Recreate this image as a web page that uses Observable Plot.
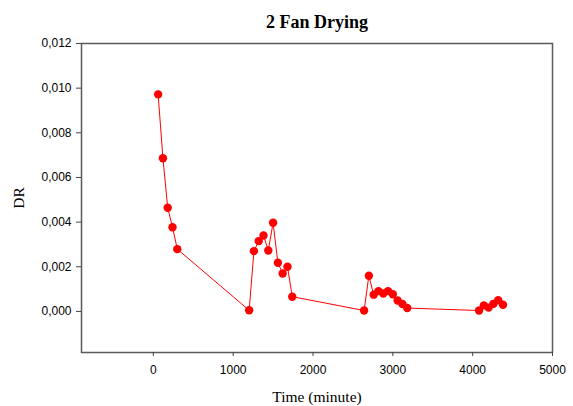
<!DOCTYPE html>
<html>
<head>
<meta charset="utf-8">
<script src="https://cdn.jsdelivr.net/npm/d3@7"></script>
<script src="https://cdn.jsdelivr.net/npm/@observablehq/plot@0.6"></script>
<style>
  html, body { margin: 0; padding: 0; background: #fff; }
  #chart svg { display: block; }
</style>
</head>
<body>
<div id="chart"></div>
<script>
const title = "2 Fan Drying";
const xLabel = "Time (minute)";
const yLabel = "DR";
const time = [60, 120, 180, 240, 300,
  1200, 1260, 1320, 1380, 1440, 1500, 1560, 1620, 1680, 1740,
  2640, 2700, 2760, 2820, 2880, 2940, 3000, 3060, 3120, 3180,
  4080, 4140, 4200, 4260, 4320, 4380];
const dr = [0.00972, 0.00686, 0.00464, 0.00377, 0.00279,
  0.00005, 0.00270, 0.00315, 0.00340, 0.00273, 0.00397, 0.00218, 0.00170, 0.00200, 0.00066,
  0.00004, 0.00160, 0.00075, 0.00091, 0.00080, 0.00091, 0.00077, 0.00049, 0.00033, 0.00015,
  0.00004, 0.00027, 0.00017, 0.00034, 0.00050, 0.00030];
const xTicks = [0, 1000, 2000, 3000, 4000, 5000];
const yTicks = [0, 0.002, 0.004, 0.006, 0.008, 0.010, 0.012];

const data = time.map((t, i) => ({t, dr: dr[i]}));
const sans = "'Liberation Sans', Arial, sans-serif";
const serif = "'Liberation Serif', 'Times New Roman', serif";

const chart = Plot.plot({
  width: 573,
  height: 406,
  marginLeft: 81,
  marginRight: 21,
  marginTop: 43,
  marginBottom: 54,
  style: {background: "white", color: "black", fontFamily: sans, fontSize: "12px"},
  x: {domain: [-900, 5000]},
  y: {domain: [-0.00184, 0.012]},
  marks: [
    Plot.frame({stroke: "#5a5a5a", strokeWidth: 1.5}),
    Plot.axisX({ticks: xTicks, tickFormat: d => String(d), tickSize: 4, tickPadding: 9, fontSize: 12, label: null, stroke: "#444", fontFamily: sans}),
    Plot.axisY({ticks: yTicks, tickFormat: d => d.toFixed(3).replace(".", ","), tickSize: 5, tickPadding: 5, fontSize: 12, label: null, stroke: "#444", fontFamily: sans}),
    Plot.line(data, {x: "t", y: "dr", stroke: "#ff0000", strokeWidth: 1}),
    Plot.dot(data, {x: "t", y: "dr", r: 4.2, fill: "#ff0000", stroke: "none"}),
    Plot.text([title], {frameAnchor: "top", dy: -21, lineAnchor: "middle", textAnchor: "middle", fontFamily: serif, fontWeight: "bold", fontSize: 18, fill: "black"}),
    Plot.text([xLabel], {frameAnchor: "bottom", dy: 45, lineAnchor: "middle", textAnchor: "middle", fontFamily: serif, fontSize: 15.5, fill: "black"}),
    Plot.text([yLabel], {frameAnchor: "left", dx: -62, rotate: -90, lineAnchor: "middle", textAnchor: "middle", fontFamily: serif, fontSize: 15.5, fill: "black"})
  ]
});
document.getElementById("chart").appendChild(chart);
</script>
</body>
</html>
